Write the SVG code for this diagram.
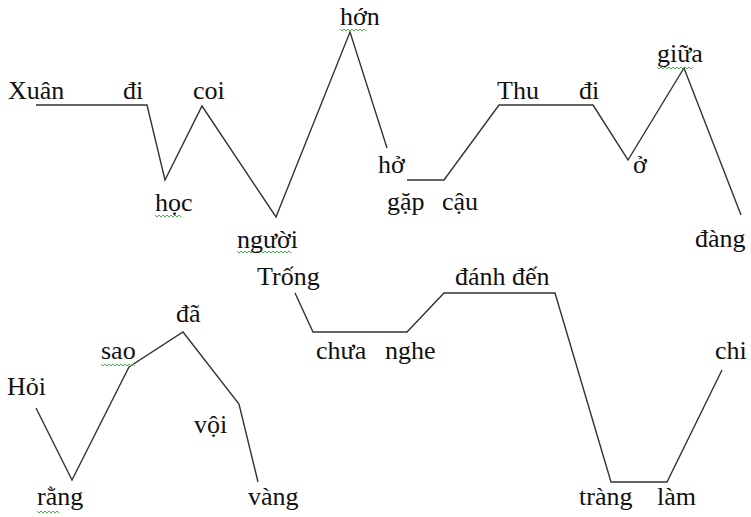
<svg xmlns="http://www.w3.org/2000/svg" width="751" height="517" viewBox="0 0 751 517">
<style>
.t text{font-family:'Liberation Serif','Times New Roman',serif;font-size:26px;fill:#111}
.ln{fill:none;stroke:#333;stroke-width:1.4;stroke-linejoin:miter}
.sq{fill:none;stroke:#3aa83a;stroke-width:0.9}
</style>
<rect width="751" height="517" fill="#fff"/>
<g id="connectors">
<polyline class="ln" points="36,105 147,105 165,180 202,106 276,217 350,32 387,148"/>
<polyline class="ln" points="407,180 444,180 499,105 593,105 628,160 684,68 741,215"/>
<polyline class="ln" points="36,408 72,480 129,367 183,332 239,404 258,482"/>
<polyline class="ln" points="295,293 313,332 407,332 444,293 555,293 611,482 667,482 722,370"/>
</g>
<g id="squiggles">
<polyline class="sq" points="155,215 157,217 159,215 161,217 163,215 165,217 167,215 169,217 171,215 173,217 175,215 177,217 179,215 181,217"/>
<polyline class="sq" points="237,251 239,253 241,251 243,253 245,251 247,253 249,251 251,253 253,251 255,253 257,251 259,253 261,251 263,253 265,251 267,253 269,251 271,253 273,251 275,253 277,251 279,253 281,251 283,253 285,251 287,253 289,251 291,253"/>
<polyline class="sq" points="340,29 342,31 344,29 346,31 348,29 350,31 352,29 354,31 356,29 358,31 360,29 362,31 364,29 366,31"/>
<polyline class="sq" points="657,67 659,69 661,67 663,69 665,67 667,69 669,67 671,69 673,67 675,69 677,67 679,69 681,67 683,69 685,67 687,69 689,67 691,69 693,67"/>
<polyline class="sq" points="101,364 103,366 105,364 107,366 109,364 111,366 113,364 115,366 117,364 119,366 121,364 123,366 125,364 127,366 129,364 131,366 133,364 135,366"/>
<polyline class="sq" points="37,511 39,513 41,511 43,513 45,511 47,513 49,511 51,513 53,511 55,513 57,511 59,513"/>
</g>
<g class="t" font-family="Liberation Serif, serif" font-size="26">
<g id="n-xuan"><text x="8" y="99">Xuân</text></g>
<g id="n-di1"><text x="123" y="99">đi</text></g>
<g id="n-coi"><text x="193" y="99">coi</text></g>
<g id="n-hoc"><text x="155" y="211">học</text></g>
<g id="n-nguoi"><text x="237" y="248">người</text></g>
<g id="n-hon"><text x="340" y="25">hớn</text></g>
<g id="n-ho"><text x="378" y="173">hở</text></g>
<g id="n-gap"><text x="387" y="210">gặp</text></g>
<g id="n-cau"><text x="442" y="210">cậu</text></g>
<g id="n-thu"><text x="497" y="99">Thu</text></g>
<g id="n-di2"><text x="579" y="99">đi</text></g>
<g id="n-o"><text x="633" y="173">ở</text></g>
<g id="n-giua"><text x="657" y="62">giữa</text></g>
<g id="n-dang"><text x="695" y="247">đàng</text></g>
<g id="n-hoi"><text x="7" y="395">Hỏi</text></g>
<g id="n-rang"><text x="37" y="505">rằng</text></g>
<g id="n-sao"><text x="101" y="359">sao</text></g>
<g id="n-da"><text x="176" y="322">đã</text></g>
<g id="n-voi"><text x="194" y="433">vội</text></g>
<g id="n-vang"><text x="248" y="505">vàng</text></g>
<g id="n-trong"><text x="257" y="285">Trống</text></g>
<g id="n-chua"><text x="316" y="359">chưa</text></g>
<g id="n-nghe"><text x="385" y="359">nghe</text></g>
<g id="n-danhden"><text x="455" y="285">đánh đến</text></g>
<g id="n-trang"><text x="579" y="505">tràng</text></g>
<g id="n-lam"><text x="657" y="505">làm</text></g>
<g id="n-chi"><text x="715" y="359">chi</text></g>
</g>
</svg>
